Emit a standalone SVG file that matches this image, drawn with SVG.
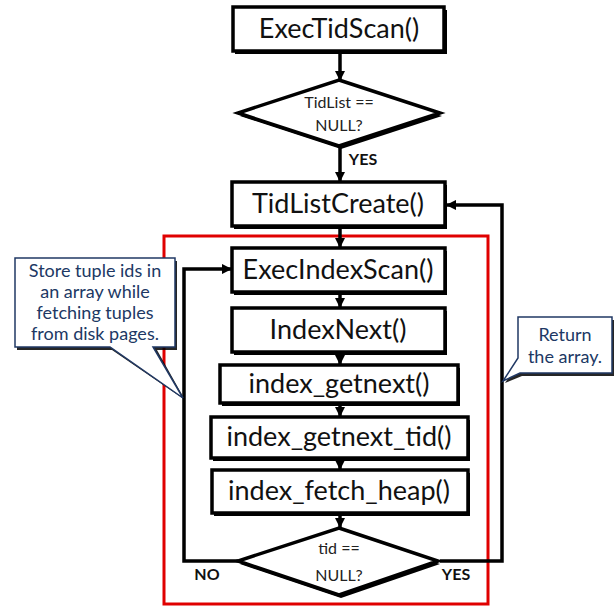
<svg xmlns="http://www.w3.org/2000/svg" width="616" height="608" viewBox="0 0 616 608">
<defs>
<style>
.box{fill:#fff;stroke:#000;stroke-width:3.5}
.sh{fill:#000}
.t{font-family:Lato,"Open Sans","Liberation Sans",sans-serif;fill:#111;text-anchor:middle}
.big{font-size:27px}
.dt{font-size:16px;fill:#222}
.lb{font-size:16px;font-weight:bold}
.ct{font-family:Lato,"Open Sans","Liberation Sans",sans-serif;font-size:18px;fill:#203864;text-anchor:middle}
.call{fill:#fff;stroke:#203864;stroke-width:1.5}
.csh{fill:#000;opacity:0.85}
.ln{fill:none;stroke:#000;stroke-width:3.5}
</style>
<marker id="ah" viewBox="0 0 10 10" refX="9" refY="5" markerWidth="3" markerHeight="3" orient="auto">
<path d="M0,0 L10,5 L0,10 Z" fill="#000"/>
</marker>
</defs>
<rect x="0" y="0" width="616" height="608" fill="#fff"/>

<rect id="loop-region" x="164" y="236" width="324" height="368" fill="none" stroke="#e00000" stroke-width="3"/>

<g id="connectors">
<line class="ln" x1="340" y1="52" x2="340" y2="80" marker-end="url(#ah)"/>
<line class="ln" x1="340" y1="146" x2="340" y2="181" marker-end="url(#ah)"/>
<line class="ln" x1="340" y1="228" x2="340" y2="247" marker-end="url(#ah)"/>
<line class="ln" x1="340" y1="293" x2="340" y2="307" marker-end="url(#ah)"/>
<line class="ln" x1="340" y1="353" x2="340" y2="364" marker-end="url(#ah)"/>
<line class="ln" x1="340" y1="404" x2="340" y2="416" marker-end="url(#ah)"/>
<line class="ln" x1="340" y1="459" x2="340" y2="469" marker-end="url(#ah)"/>
<line class="ln" x1="340" y1="515" x2="340" y2="527" marker-end="url(#ah)"/>
<path class="ln" d="M238,561 H184 V269 H231" marker-end="url(#ah)"/>
<path class="ln" d="M440,561 H502 V205 H447" marker-end="url(#ah)"/>
<text class="t lb" x="363" y="165">YES</text>
<text class="t lb" x="207" y="580">NO</text>
<text class="t lb" x="456" y="580">YES</text>
</g>

<g id="ExecTidScan">
<rect class="sh" x="235" y="10" width="212" height="44"/>
<rect class="box" x="233" y="7" width="211" height="44"/>
<text class="t big" x="339" y="38">ExecTidScan()</text>
</g>

<g id="TidListNull">
<polygon class="sh" points="341,83 442,116 341,149 240,116"/>
<polygon class="box" points="339,80 440,113 339,146 238,113"/>
<text class="t dt" x="339" y="108">TidList ==</text>
<text class="t dt" x="339" y="131">NULL?</text>
</g>

<g id="TidListCreate">
<rect class="sh" x="234" y="185" width="213" height="44"/>
<rect class="box" x="232" y="182" width="213" height="44"/>
<text class="t big" x="338" y="213">TidListCreate()</text>
</g>

<g id="ExecIndexScan">
<rect class="sh" x="234" y="251" width="213" height="44"/>
<rect class="box" x="232" y="248" width="213" height="44"/>
<text class="t big" x="338" y="279">ExecIndexScan()</text>
</g>

<g id="IndexNext">
<rect class="sh" x="234" y="311" width="213" height="44"/>
<rect class="box" x="232" y="308" width="213" height="44"/>
<text class="t big" x="338" y="339">IndexNext()</text>
</g>

<g id="index_getnext">
<rect class="sh" x="222" y="368" width="238" height="38"/>
<rect class="box" x="220" y="365" width="238" height="38"/>
<text class="t big" x="339" y="393">index_getnext()</text>
</g>

<g id="index_getnext_tid">
<rect class="sh" x="213" y="420" width="257" height="41"/>
<rect class="box" x="211" y="417" width="257" height="41"/>
<text class="t big" x="339" y="446">index_getnext_tid()</text>
</g>

<g id="index_fetch_heap">
<rect class="sh" x="214" y="473" width="256" height="43"/>
<rect class="box" x="212" y="470" width="256" height="43"/>
<text class="t big" x="339" y="500">index_fetch_heap()</text>
</g>

<g id="TidNull">
<polygon class="sh" points="341,531 440,564 341,598 240,564"/>
<polygon class="box" points="339,528 438,561 339,595 238,561"/>
<text class="t dt" x="339" y="554">tid ==</text>
<text class="t dt" x="339" y="581">NULL?</text>
</g>

<g id="callout-store">
<path class="csh" d="M17,261 H177 V350 H157 L185,400 L112,350 H17 Z"/>
<path class="call" d="M15,258 H175 V347 H153 L183,398 L110,347 H15 Z"/>
<text class="ct" x="95" y="277">Store tuple ids in</text>
<text class="ct" x="95" y="298">an array while</text>
<text class="ct" x="95" y="319">fetching tuples</text>
<text class="ct" x="95" y="340">from disk pages.</text>
</g>

<g id="callout-return">
<path class="csh" d="M520,320 H614 V376 H522 L505,383 L520,360 Z"/>
<path class="call" d="M518,317 H612 V373 H520 L503,381 L518,358 Z"/>
<text class="ct" x="565" y="341">Return</text>
<text class="ct" x="565" y="363">the array.</text>
</g>
</svg>
